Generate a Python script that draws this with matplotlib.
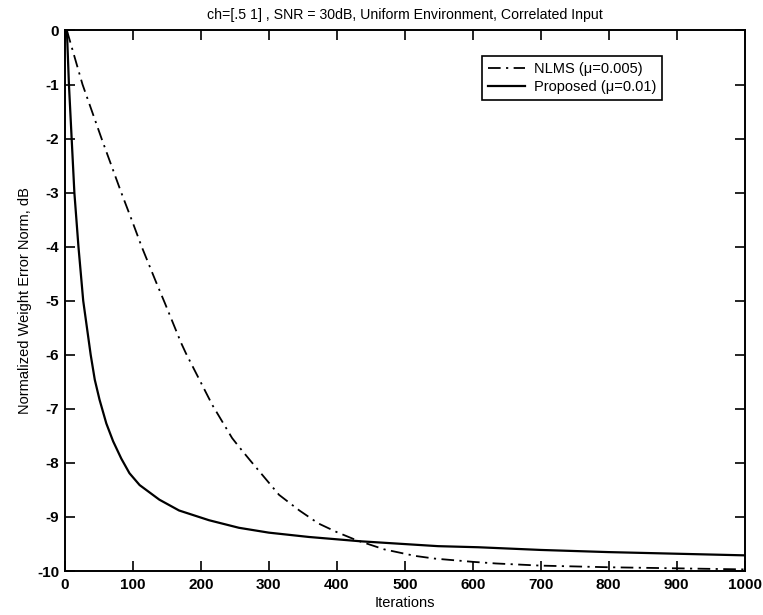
import matplotlib
matplotlib.use("Agg")
import matplotlib.pyplot as plt

plt.rcParams['font.family'] = ['Liberation Sans', 'DejaVu Sans']

# Learning curves (iteration, normalized weight error norm in dB)
nlms_iter = [3, 26, 54, 83, 100, 113, 134, 147, 171, 178, 217, 246, 256,
             273, 315, 345, 373, 400, 429, 470, 515, 544, 600, 634, 700,
             800, 900, 1000]
nlms_db = [0.0, -1.0, -2.0, -3.0, -3.56, -4.0, -4.65, -5.04, -5.78, -5.97,
           -6.93, -7.54, -7.70, -7.96, -8.59, -8.88, -9.12, -9.28, -9.43,
           -9.6, -9.72, -9.77, -9.83, -9.86, -9.9, -9.93, -9.95, -9.97]

prop_iter = [3, 6, 10, 14, 20, 27, 38, 44, 51, 61, 71, 83, 95, 110, 139,
             168, 212, 256, 300, 359, 435, 549, 608, 700, 800, 900, 1000]
prop_db = [0.0, -1.0, -2.0, -3.0, -4.0, -5.0, -6.0, -6.46, -6.83, -7.27,
           -7.6, -7.92, -8.19, -8.41, -8.68, -8.88, -9.06, -9.2, -9.29,
           -9.37, -9.45, -9.54, -9.56, -9.61, -9.65, -9.68, -9.71]

x_ticks = list(range(0, 1001, 100))
y_ticks = list(range(-10, 1, 1))

fig = plt.figure(figsize=(7.63, 6.15), dpi=100)
ax = fig.add_axes([0.085, 0.0715, 0.891, 0.879])

ax.plot(nlms_iter, nlms_db, color='black', lw=1.3,
        linestyle=(0, (7, 3, 1.2, 3)), label='NLMS (\u03bc=0.005)')
ax.plot(prop_iter, prop_db, color='black', lw=1.6, linestyle='-',
        label='Proposed (\u03bc=0.01)')

ax.set_xlim(0, 1000)
ax.set_ylim(-10, 0)
ax.set_xticks(x_ticks)
ax.set_yticks(y_ticks)
ax.set_yticklabels([str(v) for v in y_ticks])
ax.tick_params(direction='in', length=7, width=1.2, top=True, right=True,
               labelsize=11, pad=4)
ax.tick_params(axis='x', pad=5)
for lbl in ax.get_xticklabels() + ax.get_yticklabels():
    lbl.set_fontweight('bold')
for sp in ax.spines.values():
    sp.set_linewidth(1.4)

ax.set_title('ch=[.5 1] , SNR = 30dB, Uniform Environment, Correlated Input',
             fontsize=10.2, pad=8)
ax.set_xlabel('Iterations', fontsize=10.5, labelpad=3)
ax.set_ylabel('Normalized Weight Error Norm, dB', fontsize=10.5, labelpad=4)

leg = ax.legend(loc='upper right', bbox_to_anchor=(0.879, 0.952),
                borderaxespad=0, fancybox=False, edgecolor='black',
                framealpha=1, fontsize=10.5, handlelength=2.6,
                borderpad=0.4, labelspacing=0.25, handletextpad=0.6)
leg.get_frame().set_linewidth(1.2)

fig.savefig('out.png', dpi=100)
